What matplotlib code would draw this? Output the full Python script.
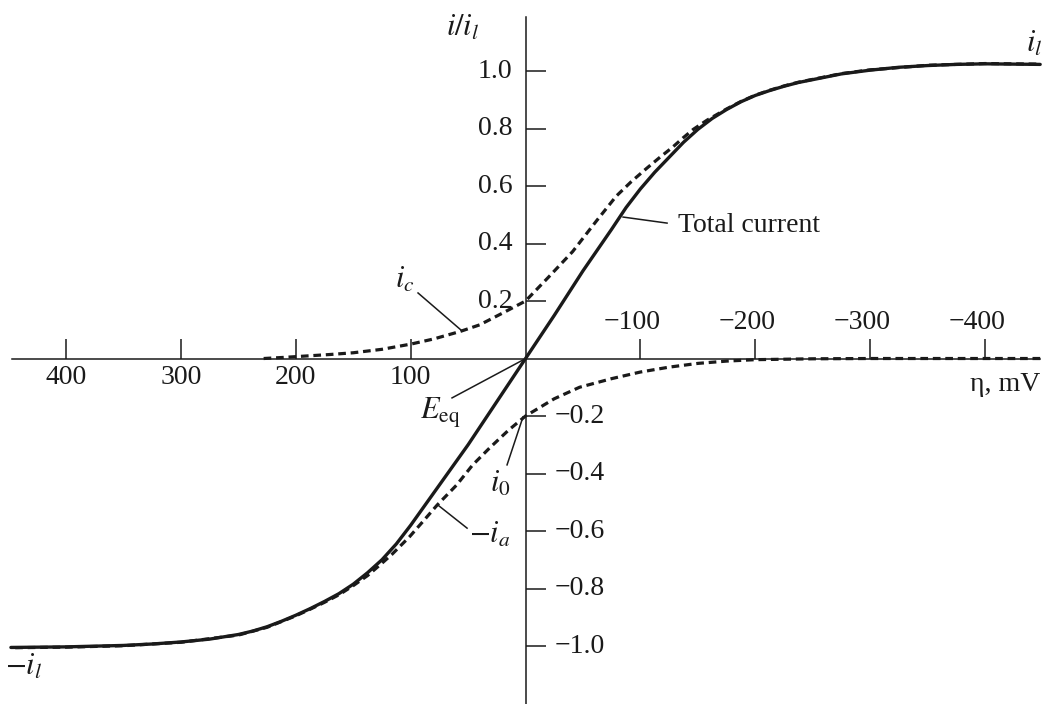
import matplotlib
matplotlib.use('Agg')
from matplotlib import pyplot as plt

plt.rcParams['font.family'] = ['Liberation Serif', 'DejaVu Serif']
plt.rcParams['mathtext.fontset'] = 'stix'

# overpotential (mV) and normalised current
eta_total = [448, 400, 350, 325, 300, 275, 250, 237.5, 225, 212.5, 200, 187.5, 175, 162.5, 150, 137.5,
             125, 112.5, 100, 87.5, 75, 50, 25, 0,
             -25, -50, -75, -87.5, -100, -112.5, -125, -137.5, -150, -162.5, -175, -187.5,
             -200, -212.5, -225, -237.5, -250, -275, -300, -325, -350, -375, -400, -448]
i_total = [-1.005, -1.003, -0.998, -0.993, -0.986, -0.976, -0.96, -0.948, -0.933, -0.914, -0.893, -0.87,
           -0.845, -0.818, -0.785, -0.745, -0.70, -0.645, -0.58, -0.51, -0.44, -0.30, -0.15, 0.0,
           0.15, 0.305, 0.45, 0.525, 0.59, 0.648, 0.70, 0.752, 0.797, 0.835, 0.866, 0.893,
           0.915, 0.932, 0.947, 0.96, 0.97, 0.99, 1.003, 1.013, 1.019, 1.023, 1.025, 1.023]

eta_c = [228, 210, 190, 170, 150, 125, 100, 80, 57, 40, 20, 0, -20, -41, -62, -79, -92, -105, -117,
         -128, -137, -146, -158, -175, -187.5, -200, -212.5, -225, -237.5, -250, -275, -300, -350, -400, -448]
i_c = [0.0, 0.004, 0.009, 0.014, 0.02, 0.032, 0.05, 0.068, 0.094, 0.117, 0.158, 0.2, 0.283, 0.372, 0.48,
       0.565, 0.615, 0.66, 0.70, 0.735, 0.767, 0.797, 0.829, 0.868, 0.894, 0.916, 0.933, 0.948, 0.961,
       0.971, 0.991, 1.004, 1.02, 1.026, 1.024]

eta_a = [-448, -400, -300, -250, -200, -175, -150, -125, -100, -75, -47, -25, 0, 15, 31, 46, 60, 77,
         90, 101, 116, 125, 137.5, 150, 162.5, 175, 187.5, 200, 225, 250, 300, 350, 400, 448]
i_a = [0.0, 0.0, 0.0, -0.001, -0.004, -0.009, -0.017, -0.03, -0.047, -0.07, -0.10, -0.14, -0.2, -0.25,
       -0.31, -0.37, -0.44, -0.51, -0.57, -0.62, -0.68, -0.712, -0.755, -0.79, -0.822, -0.848, -0.872,
       -0.895, -0.935, -0.962, -0.987, -0.999, -1.004, -1.006]

x_ticks = [400, 300, 200, 100, -100, -200, -300, -400]
y_ticks = [1.0, 0.8, 0.6, 0.4, 0.2, -0.2, -0.4, -0.6, -0.8, -1.0]

FS = 20
MFS = 22
ink = '#1a1a1a'

fig = plt.figure(figsize=(10.45, 7.04), dpi=100)
ax = fig.add_axes([0, 0, 1, 1])
ax.set_xlim(457.5, -452.2)
ax.set_ylim(-1.2017, 1.247)

# axes through the origin
for side in ['top', 'right']:
    ax.spines[side].set_visible(False)
ax.spines['left'].set_position(('data', 0))
ax.spines['bottom'].set_position(('data', 0))
ax.spines['bottom'].set_bounds(447, -448)
ax.spines['left'].set_bounds(-1.25, 1.188)
for side in ['left', 'bottom']:
    ax.spines[side].set_linewidth(1.1)
    ax.spines[side].set_color(ink)

ax.set_xticks(x_ticks)
ax.set_yticks(y_ticks)
ax.tick_params(direction='in', length=14.5, width=1.1, color=ink,
               labelbottom=False, labelleft=False)

# tick labels split either side of the axes
for v in x_ticks:
    if v > 0:
        ax.annotate(f'{v}', (v, 0), xytext=(0, -14), textcoords='offset points',
                    ha='center', va='center', fontsize=FS, color=ink)
    else:
        ax.annotate(f'\u2212{-v}', (v, 0), xytext=(-6, 26), textcoords='offset points',
                    ha='center', va='center', fontsize=FS, color=ink)
for v in y_ticks:
    if v > 0:
        ax.annotate(f'{v:.1f}', (0, v), xytext=(-9.4, 0), textcoords='offset points',
                    ha='right', va='center', fontsize=FS, color=ink)
    else:
        ax.annotate(f'\u2212{-v:.1f}', (0, v), xytext=(21, 0), textcoords='offset points',
                    ha='left', va='center', fontsize=FS, color=ink)

# curves
ax.plot(eta_c, i_c, color=ink, lw=2.3, dashes=(2.4, 1.5), zorder=2)
ax.plot(eta_a, i_a, color=ink, lw=2.3, dashes=(2.4, 1.5), zorder=2)
ax.plot(eta_total, i_total, color=ink, lw=2.4, zorder=3, solid_capstyle='round',
        solid_joinstyle='round')

# labels and leaders
ax.text(54.4, 1.15, r'$i/i_l$', fontsize=MFS, ha='center', va='center', color=ink)
ax.text(-442.6, 1.094, r'$i_l$', fontsize=MFS, ha='center', va='center', color=ink)
ax.text(436.6, -1.073, r'$-i_l$', fontsize=MFS, ha='center', va='center', color=ink)
ax.text(-447.9, -0.092, '\u03b7, mV', fontsize=FS, ha='right', va='center', color=ink)

ax.text(-132.7, 0.464, 'Total current', fontsize=FS, ha='left', va='center', color=ink)
ax.plot([-84.9, -123.2], [0.492, 0.471], color=ink, lw=1.1)

ax.text(104.9, 0.273, r'$i_c$', fontsize=MFS, ha='center', va='center', color=ink)
ax.plot([93.6, 55.3], [0.228, 0.096], color=ink, lw=1.1)

ax.text(74.4, -0.19, r'$E_{\rm eq}$', fontsize=MFS, ha='center', va='center', color=ink)
ax.plot([64, 2.2], [-0.137, -0.005], color=ink, lw=1.1)

ax.text(22.2, -0.437, r'$i_0$', fontsize=MFS, ha='center', va='center', color=ink)
ax.plot([16.1, 2.2], [-0.37, -0.203], color=ink, lw=1.1)

ax.text(30.9, -0.614, r'$-i_a$', fontsize=MFS, ha='center', va='center', color=ink)
ax.plot([50.9, 76.2], [-0.59, -0.51], color=ink, lw=1.1)

fig.savefig('out.png', dpi=100)
